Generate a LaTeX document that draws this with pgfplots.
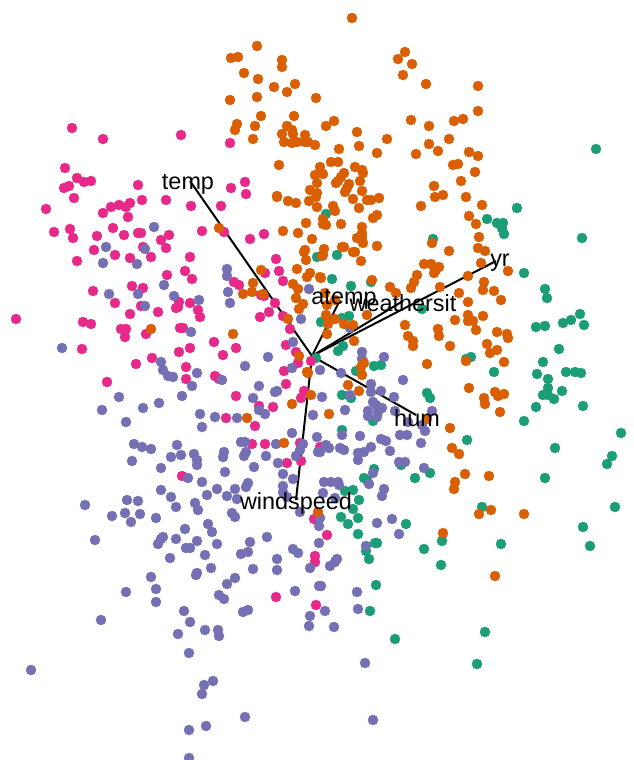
\documentclass[border=0pt]{standalone}
\usepackage{pgfplots}
\pgfplotsset{compat=1.18}
\usepackage{fontspec}
\setmainfont{Liberation Sans}
\definecolor{dgreen}{HTML}{1B9E77}
\definecolor{dorange}{HTML}{D95F02}
\definecolor{dpurple}{HTML}{7570B3}
\definecolor{dpink}{HTML}{E7298A}
\tikzset{dotty/.style={only marks,mark=*,mark size=5pt,mark options={draw=#1,fill=#1}}}
\tikzset{lab/.style={font=\fontsize{23.4}{23.4}\selectfont,inner sep=0pt,text=black}}
\tikzset{vec/.style={black,no markers,sharp plot,line width=2pt}}
\begin{document}
\begin{tikzpicture}
\path[use as bounding box] (0,0) rectangle (633pt,760pt);
\begin{axis}[
  at={(0,0)},anchor=south west,
  width=633pt,height=760pt,scale only axis,
  xmin=0,xmax=633,ymin=0,ymax=760,y dir=reverse,
  hide axis,
  after end axis/.code={
    \node[lab] at (axis cs:188,184) {temp};
    \node[lab] at (axis cs:500,263) {yr};
    \node[lab] at (axis cs:344,299) {atemp};
    \node[lab] at (axis cs:403,303) {weathersit};
    \node[lab] at (axis cs:417,418) {hum};
    \node[lab] at (axis cs:296,503) {windspeed};
  },
]
\addplot[dotty=dgreen] coordinates {
(596,149)(517,208)(487,219)(497,223)(503,223)(502,228)(504,234)(582,238)(433,239)(326,214)(317,257)(337,255)(524,273)(545,289)(547,298)(332,279)(351,286)(371,282)(422,309)(321,322)(342,318)(349,316)(580,314)(571,320)(563,323)(584,325)(545,326)(536,327)(559,349)(543,362)(537,374)(566,372)(575,372)(581,373)(548,379)(548,388)(562,391)(543,395)(548,395)(554,399)(536,407)(583,406)(524,421)(494,372)(471,357)(466,359)(338,351)(343,346)(356,371)(374,366)(381,365)(342,395)(351,398)(427,393)(430,398)(373,421)(342,430)(467,440)(555,448)(621,433)(612,456)(607,464)(545,478)(430,473)(415,478)(401,465)(374,469)(364,478)(367,480)(353,490)(345,491)(359,500)(482,507)(615,507)(353,509)(341,517)(358,518)(348,524)(406,524)(358,534)(583,527)(590,546)(375,543)(377,543)(366,551)(369,559)(442,541)(424,549)(501,544)(441,565)(376,585)(370,611)(395,639)(485,632)(477,664)(316,358)
};
\addplot[dotty=dpink] coordinates {
(72,128)(103,139)(181,135)(230,143)(65,168)(77,178)(84,182)(91,181)(64,188)(69,186)(138,185)(74,198)(245,182)(231,188)(246,194)(46,209)(111,207)(119,205)(126,207)(130,203)(142,200)(166,200)(103,213)(128,217)(191,206)(221,206)(54,232)(70,229)(73,238)(113,228)(97,236)(124,235)(138,233)(141,233)(169,235)(202,231)(224,232)(161,240)(143,247)(166,248)(94,250)(250,239)(264,234)(115,255)(130,258)(151,257)(190,257)(77,261)(185,271)(192,279)(167,275)(143,288)(132,286)(93,291)(115,303)(141,306)(130,314)(158,312)(179,302)(178,307)(176,308)(190,303)(198,310)(200,317)(16,319)(83,322)(91,324)(121,329)(126,329)(125,337)(146,334)(180,328)(183,328)(82,349)(136,364)(152,358)(179,352)(190,348)(186,367)(186,379)(107,382)(214,342)(223,355)(236,348)(215,376)(219,379)(236,396)(226,418)(259,406)(273,407)(255,426)(276,259)(265,273)(279,271)(283,281)(234,282)(239,285)(261,295)(264,296)(275,303)(269,312)(260,317)(283,316)(290,329)(286,345)(296,352)(298,363)(284,371)(286,384)(304,391)(301,398)(252,444)(265,444)(300,443)(287,463)(301,461)(182,476)(320,447)(311,361)(276,597)(327,535)(315,556)(315,562)(316,605)(314,519)
};
\addplot[dotty=dpurple] coordinates {
(154,227)(106,247)(145,249)(103,263)(137,264)(227,269)(227,276)(164,285)(138,294)(109,294)(174,296)(199,300)(145,306)(228,292)(230,303)(309,289)(301,319)(191,332)(293,342)(62,348)(268,357)(245,366)(292,368)(161,362)(163,370)(168,376)(173,377)(197,373)(222,380)(192,386)(259,386)(275,392)(277,391)(253,398)(119,397)(182,396)(159,403)(143,408)(102,410)(126,422)(200,414)(215,417)(237,418)(265,414)(259,410)(202,427)(313,415)(292,433)(317,437)(134,444)(142,447)(151,449)(177,445)(171,457)(181,455)(194,454)(197,460)(197,465)(132,461)(161,468)(224,452)(223,457)(241,442)(245,442)(246,452)(244,456)(266,456)(276,444)(278,463)(254,467)(296,456)(303,444)(300,450)(318,452)(225,472)(283,474)(188,478)(202,482)(293,479)(283,486)(248,483)(246,487)(161,490)(217,489)(235,489)(207,495)(283,492)(171,497)(227,496)(237,499)(127,500)(138,501)(85,505)(195,503)(176,507)(320,370)(341,373)(362,352)(362,359)(384,357)(403,380)(371,384)(381,391)(371,392)(394,397)(322,397)(350,395)(345,410)(373,402)(376,405)(382,408)(368,411)(378,412)(368,416)(377,417)(395,411)(408,422)(432,411)(422,425)(425,431)(342,435)(360,436)(381,439)(386,441)(400,435)(407,435)(421,443)(326,445)(329,448)(340,448)(344,450)(320,452)(371,447)(390,451)(358,453)(364,452)(358,460)(399,462)(405,462)(424,468)(373,473)(369,484)(324,482)(331,482)(338,482)(339,485)(384,489)(382,496)(335,498)(323,493)(287,497)(300,512)(350,328)
(112,516)(125,513)(140,514)(131,522)(156,518)(198,510)(232,513)(235,517)(208,524)(212,532)(95,540)(185,529)(163,537)(161,539)(158,544)(176,539)(197,541)(217,544)(250,542)(267,537)(293,549)(298,553)(186,548)(190,548)(170,558)(205,555)(241,554)(248,552)(277,559)(319,543)(211,568)(253,569)(277,570)(310,568)(197,573)(196,575)(151,577)(235,578)(227,584)(156,589)(126,592)(295,591)(319,586)(219,595)(224,599)(156,602)(184,611)(243,612)(248,610)(310,616)(101,620)(190,622)(205,630)(218,630)(219,636)(309,626)(178,634)(189,653)(31,670)(213,681)(204,685)(202,694)(245,717)(206,726)(189,730)(189,758)
(377,523)(392,519)(399,534)(319,526)(320,518)(366,546)(337,559)(335,562)(330,566)(321,586)(357,592)(358,609)(325,611)(334,627)(365,663)(373,720)
};
\addplot[dotty=dorange] coordinates {
(257,46)(231,58)(238,57)(282,60)(282,67)(244,73)(258,79)(274,87)(287,92)(295,84)(257,97)(230,100)(316,98)(261,116)(294,116)(237,124)(235,130)(255,126)(253,139)(287,126)(292,130)(282,134)(293,134)(305,135)(284,142)(292,143)(297,142)(305,142)(308,142)(315,145)(279,165)(219,228)(334,121)(326,126)(357,132)(387,139)(359,146)(339,149)(377,153)(331,162)(338,162)(320,167)(355,167)(362,170)(363,173)(315,175)(323,174)(344,173)(341,177)(338,181)(336,183)(360,181)(317,183)(349,184)(347,188)(345,192)(310,190)(362,191)(317,193)(316,197)(277,196)(277,197)(309,201)(288,201)(296,203)(353,199)(367,200)(371,200)(379,198)(317,207)(359,208)(333,206)(335,211)(377,215)(373,218)(323,219)(323,224)(326,225)(306,223)(341,224)(362,227)(283,231)(298,233)(362,233)(362,237)(357,238)(363,243)(312,239)(377,246)(342,247)(344,247)(324,249)(304,252)(353,252)(355,252)(322,256)(306,260)(361,261)
(352,18)(405,52)(398,59)(412,64)(403,75)(426,84)(478,86)(478,111)(411,120)(454,121)(463,119)(429,126)(449,139)(429,144)(438,151)(416,154)(469,152)(478,156)(453,165)(458,164)(475,172)(461,181)(434,186)(435,197)(443,195)(466,197)(482,205)(421,206)(469,216)(476,224)(479,237)(478,248)(485,251)(432,243)(449,251)
(321,278)(372,280)(390,287)(396,293)(411,288)(414,282)(417,275)(424,264)(431,264)(434,267)(439,267)(436,270)(434,273)(440,287)(459,293)(468,276)(481,263)(484,282)(483,290)(494,291)(501,300)(508,271)(468,302)(367,315)(405,325)(455,320)(468,315)(468,321)(473,321)(483,316)(476,330)(438,329)(439,336)(408,336)(413,341)(413,346)(450,346)(497,332)(507,334)(508,338)(487,344)(490,353)(497,350)(504,362)(427,364)(466,361)(364,363)(361,367)(362,375)(348,385)(359,391)(469,388)(495,392)(498,396)(504,394)(484,398)(485,404)(500,412)(329,414)(427,419)(450,428)(452,448)(459,454)(465,474)(489,476)(455,482)(454,489)
(305,250)(323,255)(297,269)(261,270)(310,273)(307,277)(320,277)(253,283)(293,284)(298,289)(296,298)(243,294)(252,292)(263,294)(303,304)(299,309)(288,319)(233,334)(299,356)(326,315)(335,319)(328,324)(344,324)(353,325)(327,334)(354,341)(307,372)(325,293)(335,300)(327,305)(151,329)
(308,373)(311,395)(292,404)(247,418)(284,443)(491,510)(479,514)(524,514)(443,533)(495,576)(318,512)
};
\addplot[vec] coordinates {(312,356)(190,181)};
\addplot[vec] coordinates {(312,356)(496,261)};
\addplot[vec] coordinates {(312,356)(403,301)};
\addplot[vec] coordinates {(312,356)(340,300)};
\addplot[vec] coordinates {(312,356)(416,415)};
\addplot[vec] coordinates {(312,356)(296,500)};
\end{axis}
\end{tikzpicture}
\end{document}
